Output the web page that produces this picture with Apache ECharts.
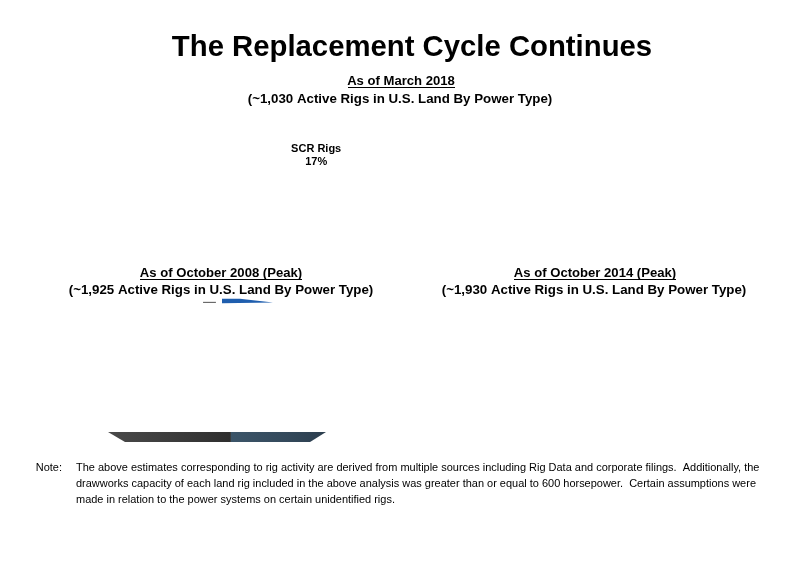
<!DOCTYPE html>
<html>
<head>
<meta charset="utf-8">
<script src="https://cdn.jsdelivr.net/npm/echarts@6/dist/echarts.min.js"></script>
<style>
html,body{margin:0;padding:0;background:#fff;}
#chart{width:800px;height:565px;}
</style>
</head>
<body>
<div id="chart"></div>
<script>
// ---- data ----
var mainTitle = 'The Replacement Cycle Continues';
var panelTitles = ['As of March 2018', 'As of October 2008 (Peak)', 'As of October 2014 (Peak)'];
var panelSubtitles = ['(~1,030 Active Rigs in U.S. Land By Power Type)', '(~1,925 Active Rigs in U.S. Land By Power Type)', '(~1,930 Active Rigs in U.S. Land By Power Type)'];
var pie2018Names = ['SCR Rigs', 'Other Rigs'];
var pie2018Values = [17, 83];
// 2008 pie: visible 3D rim segments (share of rim width, %)
var rim2008Names = ['Segment A', 'Segment B'];
var rim2008Start = [0, 56.4];
var rim2008End = [56.4, 100];
var noteLines = [
  'The above estimates corresponding to rig activity are derived from multiple sources including Rig Data and corporate filings.  Additionally, the',
  'drawworks capacity of each land rig included in the above analysis was greater than or equal to 600 horsepower.  Certain assumptions were',
  'made in relation to the power systems on certain unidentified rigs.'
];

var FONT = '"Liberation Sans", Arial, Helvetica, sans-serif';
var NARROW = '"Liberation Sans Narrow", "Arial Narrow", "Liberation Sans", sans-serif';

var chart = echarts.init(document.getElementById('chart'), null, {renderer: 'canvas'});

function txt(text, x, y, size, weight, font, align, sx) {
  return {type: 'text', x: x, y: y, z: 100, scaleX: sx || 1,
    style: {text: text, fill: '#000', font: (weight || 'bold') + ' ' + size + 'px ' + (font || FONT),
      textAlign: align || 'center', textVerticalAlign: 'middle'}};
}
function uline(x1, x2, y) {
  return {type: 'line', z: 100, shape: {x1: x1, y1: y, x2: x2, y2: y}, style: {stroke: '#000', lineWidth: 1}};
}

var graphics = [
  txt(mainTitle, 412, 47.5, 29.3),
  txt(panelTitles[0], 401, 81.5, 13.1),
  uline(348, 455, 87.5),
  txt(panelSubtitles[0], 400, 99.5, 13.3),
  txt(panelTitles[1], 221, 273.5, 13.1),
  uline(140, 302, 279.5),
  txt(panelSubtitles[1], 221, 290, 13.3),
  txt(panelTitles[2], 595, 273.5, 13.1),
  uline(514, 676, 279.5),
  txt(panelSubtitles[2], 594, 290, 13.3),
  txt('Note:', 62, 467.5, 11.8, 'normal', NARROW, 'right', 0.93)
];
noteLines.forEach(function (l, i) {
  graphics.push(txt(l, 76, 467.5 + i * 16, 11.8, 'normal', NARROW, 'left', 0.93));
});

var RIM_TOP = 6.85;
var rimColors = [
  ['#4a4a4a', '#3a3a3a', '#2e2e2e'],
  ['#3c5569', '#34495b', '#2c3e4e']
];

var option = {
  animation: false,
  backgroundColor: '#fff',
  graphic: graphics,
  grid: [{left: 108, top: 296, width: 218, height: 146}],
  xAxis: [{type: 'value', min: 0, max: 100, show: false, gridIndex: 0}],
  yAxis: [{type: 'value', min: 0, max: 100, show: false, gridIndex: 0}],
  series: [
    {
      type: 'pie',
      center: [363, 174],
      radius: 94.4,
      startAngle: 189.5,
      silent: true,
      itemStyle: {color: 'rgba(255,255,255,0)', borderWidth: 0},
      labelLine: {show: false},
      data: pie2018Names.map(function (n, i) {
        return {name: n, value: pie2018Values[i],
          label: {show: i === 0, position: 'inside', formatter: '{b}\n{d}%', color: '#000',
            fontFamily: FONT, fontWeight: 'bold', fontSize: 11, lineHeight: 13}};
      })
    },
    {
      type: 'custom',
      xAxisIndex: 0, yAxisIndex: 0,
      silent: true,
      data: rim2008Names.map(function (n, i) { return [rim2008Start[i], rim2008End[i], i]; }),
      renderItem: function (params, api) {
        var s = api.value(0), e = api.value(1), idx = api.value(2);
        var tl = api.coord([s, RIM_TOP]);
        var tr = api.coord([e, RIM_TOP]);
        var br = api.coord([e >= 100 ? 92.7 : e, 0]);
        var bl = api.coord([s <= 0 ? 7.8 : s, 0]);
        var c = rimColors[idx];
        return {
          type: 'polygon',
          shape: {points: [tl, tr, br, bl]},
          style: {fill: new echarts.graphic.LinearGradient(0, 0, 1, 0, [
            {offset: 0, color: c[0]}, {offset: 0.6, color: c[1]}, {offset: 1, color: c[2]}])}
        };
      }
    },
    {
      type: 'custom',
      xAxisIndex: 0, yAxisIndex: 0,
      silent: true,
      data: [[43.6, 49.5, 0], [52.3, 75.7, 1]],
      renderItem: function (params, api) {
        var s = api.value(0), e = api.value(1), k = api.value(2);
        if (k === 0) {
          var a = api.coord([s, 95.6]), b = api.coord([e, 95.6]);
          return {type: 'line', shape: {x1: a[0], y1: a[1], x2: b[0], y2: b[1]},
            style: {stroke: '#6a6a6a', lineWidth: 1.2}};
        }
        var m = s + (e - s) * 0.35;
        return {
          type: 'polygon',
          shape: {points: [api.coord([s, 98.2]), api.coord([m, 98.2]), api.coord([e, 95.6]), api.coord([s, 95.0])]},
          style: {fill: '#1f5eae'}
        };
      }
    }
  ]
};
chart.setOption(option);
</script>
</body>
</html>
